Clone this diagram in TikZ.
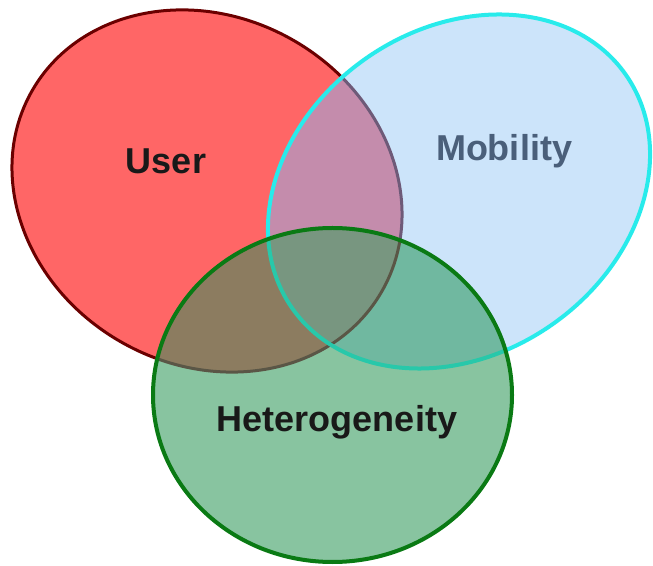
\documentclass[tikz,border=0pt]{standalone}
\usepackage{fontspec}
\setmainfont{Liberation Sans}
\definecolor{cR}{RGB}{255,102,102}
\definecolor{cRb}{RGB}{107,0,0}
\definecolor{cB}{RGB}{204,228,250}
\definecolor{cRB}{RGB}{196,140,172}
\definecolor{cRbB}{RGB}{110,90,120}
\definecolor{cBb}{RGB}{40,235,235}
\definecolor{cG}{RGB}{136,196,160}
\definecolor{cRG}{RGB}{140,124,96}
\definecolor{cBG}{RGB}{112,184,160}
\definecolor{cRBG}{RGB}{120,150,128}
\definecolor{cRbG}{RGB}{90,86,70}
\definecolor{cBbG}{RGB}{40,200,170}
\definecolor{cGb}{RGB}{10,122,20}
\definecolor{cMob}{RGB}{74,95,122}
\begin{document}
\begin{tikzpicture}[x=1pt,y=1pt,
  rrot/.style={rotate around={-30:(207,374)}},
  brot/.style={rotate around={35:(459,373.5)}},
  lbl/.style={font=\fontsize{36}{40}\selectfont\bfseries, inner sep=0pt}]
\def\RedE{(207,374) ellipse [x radius=201.6pt, y radius=173.7pt]}
\def\BluE{(459,373.5) ellipse [x radius=203.6pt, y radius=162.4pt]}
\def\GrnE{(332.5,170) ellipse [x radius=179.5pt, y radius=167pt]}
\useasboundingbox (0,0) rectangle (653,565);
% red
\fill[cR, rrot] \RedE;
\draw[cRb, line width=3pt, rrot] \RedE;
% blue
\fill[cB, brot] \BluE;
\begin{scope}
  \clip[rrot] \RedE;
  \fill[cRB, brot] \BluE;
\end{scope}
\begin{scope}
  \clip[brot] \BluE;
  \draw[cRbB, line width=3pt, rrot] \RedE;
\end{scope}
\draw[cBb, line width=4pt, brot] \BluE;
% green
\fill[cG] \GrnE;
\begin{scope}
  \clip[rrot] \RedE;
  \fill[cRG] \GrnE;
\end{scope}
\begin{scope}
  \clip[brot] \BluE;
  \fill[cBG] \GrnE;
\end{scope}
\begin{scope}
  \clip[rrot] \RedE;
  \clip[brot] \BluE;
  \fill[cRBG] \GrnE;
\end{scope}
\begin{scope}
  \clip \GrnE;
  \draw[cRbG, line width=3pt, rrot] \RedE;
  \draw[cBbG, line width=4pt, brot] \BluE;
\end{scope}
\draw[cGb, line width=4pt] \GrnE;
% labels
\node[lbl, text=black!90] (user) at (166,404) {User};
\node[lbl, text=cMob] (mob) at (504,414) {Mobility};
\node[lbl, text=black!90] (het) at (337,143) {Heterogeneity};
\end{tikzpicture}
\end{document}
